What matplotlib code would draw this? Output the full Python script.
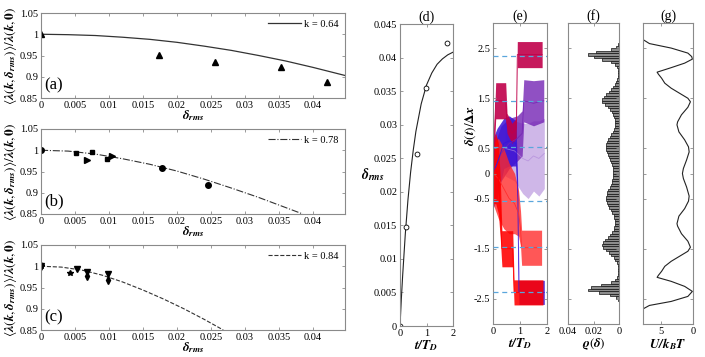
import numpy as np
import matplotlib
matplotlib.use("Agg")
import matplotlib.pyplot as plt

plt.rcParams['font.family'] = ['Liberation Serif', 'DejaVu Serif']
plt.rcParams['mathtext.fontset'] = 'stix'

# ---------------- data ----------------
# (a)
a_x = [0.0, 0.0173, 0.0256, 0.0353, 0.0420]
a_y = [1.000, 0.951, 0.934, 0.922, 0.888]
a_fit_x = [0, 0.004, 0.008, 0.012, 0.016, 0.020, 0.024, 0.028, 0.032, 0.036, 0.040, 0.0447]
a_fit_y = [1.000, 0.999, 0.997, 0.993, 0.988, 0.981, 0.972, 0.962, 0.950, 0.937, 0.922, 0.903]
# (b)
b_circ_x = [0.0, 0.0178, 0.0245]
b_circ_y = [1.000, 0.959, 0.918]
b_sq_x = [0.0051, 0.0075, 0.0097]
b_sq_y = [0.994, 0.996, 0.980]
b_tri_x = [0.0068, 0.0104]
b_tri_y = [0.976, 0.986]
b_fit_x = [0, 0.004, 0.008, 0.012, 0.016, 0.020, 0.024, 0.028, 0.032, 0.036, 0.0385]
b_fit_y = [1.000, 0.998, 0.991, 0.980, 0.967, 0.951, 0.932, 0.911, 0.889, 0.865, 0.850]
# (c)
c_v_x = [0.0, 0.0053, 0.0068, 0.0098]
c_v_y = [1.000, 0.994, 0.986, 0.982]
c_star_x = [0.0, 0.0042]
c_star_y = [1.000, 0.984]
c_d_x = [0.0, 0.0068, 0.0099]
c_d_y = [1.000, 0.977, 0.968]
c_fit_x = [0, 0.003, 0.006, 0.009, 0.012, 0.015, 0.018, 0.021, 0.024, 0.0268]
c_fit_y = [1.000, 0.998, 0.991, 0.979, 0.963, 0.944, 0.923, 0.900, 0.875, 0.850]
# (d)
d_t = [0.0, 0.23, 0.63, 0.99, 1.77]
d_rms = [0.0, 0.0147, 0.0256, 0.0354, 0.0421]
d_fit_t = [0, 0.05, 0.1, 0.2, 0.3, 0.4, 0.5, 0.6, 0.8, 1.0, 1.2, 1.4, 1.6, 1.8, 2.0]
d_fit_v = [0, 0.0040, 0.0075, 0.0137, 0.0188, 0.0229, 0.0262, 0.0290, 0.0331, 0.0359,
           0.0377, 0.0390, 0.0398, 0.0404, 0.0408]
# (e) trajectories: centre path and noise half-width
purp2_t = [0.45, 0.8, 1.1, 1.3, 1.5, 1.7, 1.9]
purp2_d = [0.5, 0.45, 0.3, 0.25, 0.35, 0.3, 0.4]
purp2_w = [0.55, 0.6, 0.7, 0.75, 0.7, 0.75, 0.7]
purp1_t = [0, 0.3, 0.6, 0.9, 1.08, 1.14, 1.5, 1.88]
purp1_d = [0, 0.4, 0.6, 0.7, 0.8, 1.45, 1.4, 1.45]
purp1_w = [0.5, 0.55, 0.5, 0.45, 0.45, 0.42, 0.45, 0.42]
blue_t = [0, 0.15, 0.4, 0.6, 0.85, 0.92, 0.96, 1.3, 1.9]
blue_d = [0, 0.2, 0.6, 0.65, 0.6, -0.5, -2.37, -2.37, -2.37]
blue_w = [0.7, 0.7, 0.5, 0.5, 0.45, 0.2, 0.24, 0.24, 0.24]
red2_t = [0, 0.2, 0.4, 0.6, 0.8, 0.95, 1.02, 1.06, 1.4, 1.8]
red2_d = [0, -0.1, -0.3, -0.5, -0.6, -0.8, -1.1, -1.48, -1.48, -1.48]
red2_w = [0.6, 0.8, 0.8, 0.7, 0.6, 0.45, 0.35, 0.35, 0.35, 0.35]
red1_t = [0, 0.1, 0.2, 0.27, 0.33, 0.5, 0.73, 0.78, 1.2, 1.85]
red1_d = [0, 0.1, -0.1, -0.7, -1.5, -1.5, -1.5, -2.37, -2.37, -2.37]
red1_w = [0.6, 0.7, 0.7, 0.6, 0.36, 0.36, 0.36, 0.25, 0.25, 0.25]
crim_t = [0, 0.06, 0.1, 0.3, 0.47, 0.52, 0.7, 0.86, 0.88, 0.9, 1.3, 1.82]
crim_d = [0, 0.9, 1.45, 1.45, 1.45, 1.0, 0.8, 0.9, 1.5, 2.37, 2.37, 2.37]
crim_w = [0.2, 0.3, 0.36, 0.36, 0.36, 0.2, 0.2, 0.2, 0.05, 0.26, 0.26, 0.26]
wells = [2.35, 1.45, 0.53, -0.55, -1.47, -2.37]
# (f) histogram (bin centres 2.575 ... -2.575, step 0.05)
rho_top = [0.0005, 0.002, 0.006, 0.018, 0.024, 0.020, 0.013, 0.006, 0.003, 0.0012, 0.0008,
           0.0007, 0.0008, 0.0010, 0.0015, 0.0025, 0.0035, 0.0045, 0.006, 0.008, 0.010, 0.012,
           0.0135, 0.013, 0.011, 0.0088, 0.007, 0.0055, 0.0045, 0.0038, 0.0034, 0.0033, 0.0033,
           0.0035, 0.004, 0.005, 0.0062, 0.0074, 0.0085, 0.0093, 0.0099, 0.0101, 0.0099, 0.0093,
           0.0085, 0.0076, 0.0067, 0.0059, 0.0053, 0.0048, 0.0045, 0.0044]
rho_bot = [0.0045, 0.0047, 0.0051, 0.0057, 0.0065, 0.0074, 0.0083, 0.0091, 0.0097, 0.0100,
           0.0099, 0.0094, 0.0087, 0.0076, 0.0064, 0.0052, 0.0042, 0.0036, 0.0032, 0.0031,
           0.0032, 0.0036, 0.0042, 0.0052, 0.0068, 0.0088, 0.011, 0.0128, 0.0134, 0.0125,
           0.0105, 0.0082, 0.006, 0.0042, 0.0028, 0.0018, 0.0011, 0.0008, 0.0007, 0.0007,
           0.0009, 0.0014, 0.0028, 0.0065, 0.014, 0.022, 0.024, 0.016, 0.007, 0.0025, 0.0008,
           0.0003]
# (g) potential
g_delta = [2.8, 2.67, 2.59, 2.5, 2.4, 2.33, 2.28, 2.2, 2.11, 2.02, 1.98, 1.9, 1.8, 1.7, 1.6,
           1.5, 1.43, 1.32, 1.17, 1.03, 0.97, 0.83, 0.67, 0.53, 0.43, 0.27, 0.1, 0.0,
           -0.1, -0.27, -0.45, -0.55, -0.7, -0.85, -1.0, -1.05, -1.2, -1.35, -1.47, -1.55,
           -1.65, -1.75, -1.85, -1.95, -2.03, -2.07, -2.15, -2.25, -2.35, -2.45, -2.55,
           -2.63, -2.7, -2.8]
g_U = [9.5, 7.8, 6.8, 3.4, 0.8, 0.2, 0.1, 1.3, 3.4, 5.6, 5.4, 4.9, 4.4, 3.4, 2.1,
       0.8, 0.4, 0.8, 1.8, 2.4, 2.5, 2.2, 1.3, 0.7, 0.6, 1.0, 1.5, 1.65,
       1.5, 1.0, 0.6, 0.7, 1.3, 2.2, 2.5, 2.4, 1.8, 0.8, 0.4, 0.8,
       2.1, 3.4, 4.4, 4.9, 5.4, 5.6, 3.4, 1.3, 0.1, 0.8, 3.4,
       6.8, 7.8, 9.5]

# tick labels
lam_xticks = [0, 0.005, 0.01, 0.015, 0.02, 0.025, 0.03, 0.035, 0.04]
lam_xlabels = ['0', '0.005', '0.01', '0.015', '0.02', '0.025', '0.03', '0.035', '0.04']
lam_yticks = [0.85, 0.9, 0.95, 1.0, 1.05]
lam_ylabels = ['0.85', '0.9', '0.95', '1', '1.05']
d_yticks = [0, 0.005, 0.01, 0.015, 0.02, 0.025, 0.03, 0.035, 0.04, 0.045]
d_ylabels = ['0', '0.005', '0.01', '0.015', '0.02', '0.025', '0.03', '0.035', '0.04', '0.045']
e_yticks = [2.5, 1.5, 0.5, 0, -0.5, -1.5, -2.5]
e_ylabels = ['2.5', '1.5', '0.5', '0', '-0.5', '-1.5', '-2.5']

# ---------------- figure ----------------
W, H = 705, 357
fig = plt.figure(figsize=(W / 100, H / 100), dpi=100)

def px_axes(l, t, r, b):
    return fig.add_axes([l / W, 1 - b / H, (r - l) / W, (b - t) / H])

SPINE = '#8a8a8a'
TFS = 7.5

def style(ax):
    for s in ax.spines.values():
        s.set_color(SPINE)
        s.set_linewidth(0.8)
    ax.tick_params(direction='in', length=2.5, width=0.6, color=SPINE, labelsize=TFS,
                   top=True, right=True, pad=2)

ylab_lam = r'$\langle\mathbfit{\lambda}(\mathbfit{k},\mathbfit{\delta}_{\mathbfit{rms}})\rangle/\mathbfit{\lambda}(\mathbfit{k},\mathbf{0})$'
xlab_rms = r'$\mathbfit{\delta}_{\mathbfit{rms}}$'

axa = px_axes(41, 13, 345, 98)
axb = px_axes(41, 129, 345, 214)
axc = px_axes(41, 245, 345, 330)
for ax, lab in zip([axa, axb, axc], ['(a)', '(b)', '(c)']):
    style(ax)
    ax.set_xlim(0, 0.0447)
    ax.set_ylim(0.85, 1.05)
    ax.set_xticks(lam_xticks)
    ax.set_xticklabels(lam_xlabels)
    ax.set_yticks(lam_yticks)
    ax.set_yticklabels(lam_ylabels)
    ax.set_xlabel(xlab_rms, fontsize=9.5, labelpad=-1)
    ax.set_ylabel(ylab_lam, fontsize=9.5, labelpad=1)
    ax.text(0.012, 0.05, lab, transform=ax.transAxes, fontsize=12, va='bottom', ha='left')

axa.plot(a_fit_x, a_fit_y, '-', color='#333333', lw=0.9, label='k = 0.64')
axa.plot(a_x, a_y, '^', color='black', ms=4, ls='none')
axb.plot(b_fit_x, b_fit_y, '-.', color='#333333', lw=0.8, label='k = 0.78')
axb.plot(b_circ_x, b_circ_y, 'o', color='black', ms=4, ls='none')
axb.plot(b_sq_x, b_sq_y, 's', color='black', ms=3.5, ls='none')
axb.plot(b_tri_x, b_tri_y, '>', color='black', ms=4, ls='none')
axc.plot(c_fit_x, c_fit_y, '--', color='#333333', lw=0.8, label='k = 0.84')
axc.plot(c_v_x, c_v_y, 'v', color='black', ms=4, ls='none')
axc.plot(c_star_x, c_star_y, '*', color='black', ms=4, ls='none')
axc.plot(c_d_x, c_d_y, 'd', color='black', ms=4, ls='none')
for ax in [axa, axb, axc]:
    ax.legend(loc='upper right', frameon=False, fontsize=TFS, handlelength=3.2,
              borderaxespad=0.2, handletextpad=0.3)

# (d)
axd = px_axes(400, 24, 453, 326)
style(axd)
axd.plot(d_fit_t, d_fit_v, '-', color='#222222', lw=0.8)
axd.plot(d_t, d_rms, 'o', mfc='white', mec='black', ms=3.5, mew=0.6, ls='none')
axd.set_xlim(0, 2)
axd.set_ylim(0, 0.045)
axd.set_xticks([0, 1, 2])
axd.set_xticklabels(['0', '1', '2'])
axd.set_yticks(d_yticks)
axd.set_yticklabels(d_ylabels)
axd.set_title('(d)', fontsize=10, pad=2)
axd.set_xlabel(r'$\mathbfit{t/T}_{\mathbfit{D}}$', fontsize=9.5, labelpad=0)
axd.set_ylabel(xlab_rms, fontsize=10, rotation=0, ha='center', va='center')
axd.yaxis.set_label_coords(-0.52, 0.50)

# (e)
axe = px_axes(493, 23, 547, 324)
style(axe)
traces = [
    (purp2_t, purp2_d, purp2_w, '#b088da', 0.6),
    (purp1_t, purp1_d, purp1_w, '#7424b4', 0.8),
    (blue_t, blue_d, blue_w, '#3a14d8', 0.85),
    (red2_t, red2_d, red2_w, '#ff2828', 0.78),
    (red1_t, red1_d, red1_w, '#ff0000', 0.88),
    (crim_t, crim_d, crim_w, '#c0004a', 0.9),
]
for t, d, w, col, al in traces:
    d = np.asarray(d)
    w = np.asarray(w)
    axe.fill_between(t, d - w, d + w, color=col, alpha=al, lw=0)
    axe.plot(t, d, color=col, lw=0.6, alpha=min(1, al + 0.1))
for yv in wells:
    axe.axhline(yv, color='#5aa6dc', lw=0.9, ls=(0, (4, 3)), zorder=5)
axe.set_xlim(0, 2)
axe.set_ylim(-3, 3)
axe.set_xticks([0, 1, 2])
axe.set_xticklabels(['0', '1', '2'])
axe.set_yticks(e_yticks)
axe.set_yticklabels(e_ylabels)
axe.set_title('(e)', fontsize=10, pad=2)
axe.set_xlabel(r'$\mathbfit{t/T}_{\mathbfit{D}}$', fontsize=9.5, labelpad=0)
axe.set_ylabel(r'$\mathbfit{\delta}(\mathbfit{t})/\mathbf{\Delta}\mathbfit{x}$', fontsize=9.5)
axe.yaxis.set_label_coords(-0.28, 0.66)

# (f)
axf = px_axes(568, 23, 619, 324)
style(axf)
centres = np.concatenate([2.575 - 0.05 * np.arange(len(rho_top)),
                          -0.025 - 0.05 * np.arange(len(rho_bot))])
rho = np.concatenate([rho_top, rho_bot])
axf.barh(centres, rho, height=0.05, color='#8c8c8c', edgecolor='#111111', linewidth=0.5)
axf.set_xlim(0.04, 0)
axf.set_ylim(-3, 3)
axf.set_xticks([0.04, 0.02, 0])
axf.set_xticklabels(['0.04', '0.02', '0'])
axf.set_yticks(e_yticks)
axf.set_yticklabels([])
axf.set_title('(f)', fontsize=10, pad=2)
axf.set_xlabel(r'$\mathbfit{\varrho}(\mathbfit{\delta})$', fontsize=9.5, labelpad=0)

# (g)
axg = px_axes(643, 23, 693, 324)
style(axg)
axg.plot(g_U, g_delta, '-', color='#222222', lw=0.8)
axg.set_xlim(7.8, 0)
axg.set_ylim(-3, 3)
axg.set_xticks([5, 0])
axg.set_xticklabels(['5', '0'])
axg.set_yticks(e_yticks)
axg.set_yticklabels([])
axg.set_title('(g)', fontsize=10, pad=2)
axg.set_xlabel(r'$\mathbfit{U/k}_{\mathbfit{B}}\mathbfit{T}$', fontsize=9.5, labelpad=0)

fig.savefig('out.png', dpi=100)
